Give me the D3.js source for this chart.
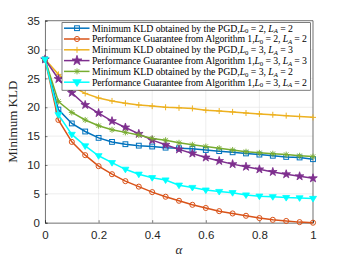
<!DOCTYPE html>
<html lang="en">
<head>
<meta charset="UTF-8">
<script src="https://cdnjs.cloudflare.com/ajax/libs/d3/7.8.5/d3.min.js"></script>
<style>
  body { margin: 0; background: #fff; }
  svg { display: block; }
</style>
</head>
<body>
<div id="chart"></div>
<script>
    // alpha values 0 .. 1 step 0.05
    var alphas = [0, 0.05, 0.1, 0.15, 0.2, 0.25, 0.3, 0.35, 0.4, 0.45, 0.5,
                  0.55, 0.6, 0.65, 0.7, 0.75, 0.8, 0.85, 0.9, 0.95, 1];

    var pgd22 = [28.3, 19.6, 17.2, 15.8, 14.7, 14.0, 13.6, 13.35, 13.2, 13.0, 12.9,
                 12.8, 12.6, 12.4, 12.2, 12.0, 11.8, 11.6, 11.4, 11.3, 11.0];
    var alg22 = [28.3, 17.8, 14.0, 11.7, 9.8, 8.4, 7.2, 6.25, 5.3, 4.5, 3.8,
                 3.1, 2.55, 2.0, 1.6, 1.2, 0.8, 0.5, 0.3, 0.1, 0.0];
    var pgd33 = [28.3, 25.7, 23.6, 22.4, 21.6, 21.1, 20.7, 20.4, 20.2, 20.0, 19.9,
                 19.8, 19.5, 19.35, 19.2, 19.0, 18.85, 18.7, 18.55, 18.4, 18.25];
    var alg33 = [28.3, 24.9, 22.5, 20.4, 19.0, 17.6, 16.5, 15.4, 14.3, 13.5, 12.7,
                 12.0, 11.3, 10.7, 10.15, 9.7, 9.25, 8.8, 8.4, 8.05, 7.7];
    var pgd32 = [28.3, 21.0, 19.1, 17.8, 16.8, 16.1, 15.65, 15.2, 14.6, 14.3, 13.85,
                 13.5, 13.2, 12.9, 12.6, 12.3, 12.1, 11.95, 11.8, 11.6, 11.45];
    var alg32 = [28.3, 18.7, 15.3, 13.3, 11.6, 10.4, 9.25, 8.4, 7.8, 7.4, 6.5,
                 6.1, 5.65, 5.4, 5.2, 4.8, 4.6, 4.5, 4.35, 4.3, 4.2];

    var xTicks = [0, 0.2, 0.4, 0.6, 0.8, 1];
    var xTickLabels = ["0", "0.2", "0.4", "0.6", "0.8", "1"];
    var yTicks = [0, 5, 10, 15, 20, 25, 30, 35];

    var series = [
        {pre: "Minimum KLD obtained by the PGD,", l0: "2", la: "2", values: pgd22, color: "#0072BD", marker: "square"},
        {pre: "Performance Guarantee from Algorithm 1,", l0: "2", la: "2", values: alg22, color: "#D95319", marker: "circle"},
        {pre: "Minimum KLD obtained by the PGD,", l0: "3", la: "3", values: pgd33, color: "#EDB120", marker: "plus"},
        {pre: "Performance Guarantee from Algorithm 1,", l0: "3", la: "3", values: alg33, color: "#7E2F8E", marker: "star"},
        {pre: "Minimum KLD obtained by the PGD,", l0: "3", la: "2", values: pgd32, color: "#77AC30", marker: "asterisk"},
        {pre: "Performance Guarantee from Algorithm 1,", l0: "3", la: "2", values: alg32, color: "#00FFFF", marker: "triangle"}
    ];

    var width = 346, height = 260;
    var pLeft = 45, pRight = 313, pTop = 20.7, pBottom = 222.7;

    var svg = d3.select("#chart").append("svg")
        .attr("width", width)
        .attr("height", height);

    var x = d3.scaleLinear().domain([0, 1]).range([pLeft, pRight]);
    var y = d3.scaleLinear().domain([0, 35]).range([pBottom, pTop]);

    // grid
    svg.append("g").selectAll("line").data(xTicks).enter().append("line")
        .attr("x1", function (d) { return x(d); })
        .attr("x2", function (d) { return x(d); })
        .attr("y1", pTop).attr("y2", pBottom)
        .attr("stroke", "#e3e3e3").attr("stroke-width", 0.6);
    svg.append("g").selectAll("line").data(yTicks).enter().append("line")
        .attr("y1", function (d) { return y(d); })
        .attr("y2", function (d) { return y(d); })
        .attr("x1", pLeft).attr("x2", pRight)
        .attr("stroke", "#e3e3e3").attr("stroke-width", 0.6);

    // axes
    var xAxis = d3.axisBottom(x).tickValues(xTicks).tickSize(-2.5).tickPadding(6)
        .tickFormat(function (d, i) { return xTickLabels[i]; });
    var yAxis = d3.axisLeft(y).tickValues(yTicks).tickSize(-2.5).tickPadding(5);

    var gx = svg.append("g").attr("transform", "translate(0," + pBottom + ")").call(xAxis);
    var gy = svg.append("g").attr("transform", "translate(" + pLeft + ",0)").call(yAxis);
    [gx, gy].forEach(function (g) {
        g.select(".domain").attr("stroke", "#262626").attr("stroke-width", 0.6);
        g.selectAll(".tick line").attr("stroke", "#262626").attr("stroke-width", 0.6);
        g.selectAll("text").attr("fill", "#262626")
            .style("font-family", "'Liberation Sans', Arial, sans-serif")
            .style("font-size", "11.5px");
    });
    gx.selectAll("text").attr("dy", "0.9em");

    // top / right box
    svg.append("line").attr("x1", pLeft).attr("x2", pRight).attr("y1", pTop).attr("y2", pTop)
        .attr("stroke", "#262626").attr("stroke-width", 0.6);
    svg.append("line").attr("x1", pRight).attr("x2", pRight).attr("y1", pTop).attr("y2", pBottom)
        .attr("stroke", "#262626").attr("stroke-width", 0.6);

    // markers
    function drawMarker(g, type, color, cx, cy, s) {
        var r = s / 2;
        if (type === "square") {
            g.append("rect").attr("x", cx - r * 0.8).attr("y", cy - r * 0.8)
                .attr("width", r * 1.6).attr("height", r * 1.6)
                .attr("fill", "none").attr("stroke", color).attr("stroke-width", 1);
        } else if (type === "circle") {
            g.append("circle").attr("cx", cx).attr("cy", cy).attr("r", r * 0.85)
                .attr("fill", "none").attr("stroke", color).attr("stroke-width", 1);
        } else if (type === "plus") {
            g.append("path").attr("d", "M" + (cx - r) + "," + cy + "H" + (cx + r) + "M" + cx + "," + (cy - r) + "V" + (cy + r))
                .attr("stroke", color).attr("stroke-width", 1);
        } else if (type === "asterisk") {
            var a = r * 0.75;
            g.append("path").attr("d",
                "M" + (cx - r) + "," + cy + "H" + (cx + r) +
                "M" + cx + "," + (cy - r) + "V" + (cy + r) +
                "M" + (cx - a) + "," + (cy - a) + "L" + (cx + a) + "," + (cy + a) +
                "M" + (cx - a) + "," + (cy + a) + "L" + (cx + a) + "," + (cy - a))
                .attr("stroke", color).attr("stroke-width", 0.9);
        } else if (type === "star") {
            var sym = d3.symbol().type(d3.symbolStar).size(r * r / 0.89);
            g.append("path").attr("d", sym()).attr("transform", "translate(" + cx + "," + cy + ")")
                .attr("fill", color).attr("stroke", color).attr("stroke-width", 0.8);
        } else if (type === "triangle") {
            var h = r;
            g.append("path").attr("d",
                "M" + (cx - h) + "," + (cy - h * 0.6) + "L" + (cx + h) + "," + (cy - h * 0.6) +
                "L" + cx + "," + (cy + h) + "Z")
                .attr("fill", color).attr("stroke", color).attr("stroke-width", 0.8);
        }
    }

    var line = d3.line()
        .x(function (d, i) { return x(alphas[i]); })
        .y(function (d) { return y(d); });

    series.forEach(function (s) {
        var g = svg.append("g");
        g.append("path").attr("d", line(s.values))
            .attr("fill", "none").attr("stroke", s.color).attr("stroke-width", 1.5);
        s.values.forEach(function (v, i) {
            var sz = s.marker === "star" ? 9 : (s.marker === "triangle" ? 7 : 6);
            drawMarker(g, s.marker, s.color, x(alphas[i]), y(v), sz);
        });
    });

    // legend
    var lg = svg.append("g");
    lg.append("rect").attr("x", 62).attr("y", 22.7).attr("width", 248.5).attr("height", 67.5)
        .attr("fill", "#fff").attr("stroke", "#262626").attr("stroke-width", 0.6);
    series.forEach(function (s, i) {
        var yy = 28.2 + i * 10.8;
        lg.append("line").attr("x1", 64).attr("x2", 89.5).attr("y1", yy).attr("y2", yy)
            .attr("stroke", s.color).attr("stroke-width", 1.5);
        var sz = s.marker === "star" ? 10.5 : (s.marker === "triangle" ? 8.5 : 6);
        drawMarker(lg, s.marker, s.color, 77, yy, sz);
        var t = lg.append("text").attr("x", 92).attr("y", yy + 3.3)
            .style("font-family", "'Liberation Serif', 'Times New Roman', serif")
            .style("font-size", "9.8px").attr("fill", "#000")
            .attr("textLength", i % 2 === 0 ? 201 : 215)
            .attr("lengthAdjust", "spacing");
        t.append("tspan").text(s.pre);
        t.append("tspan").style("font-style", "italic").text("L");
        t.append("tspan").attr("dy", 1.8).style("font-size", "6.8px").text("0");
        t.append("tspan").attr("dy", -1.8).text(" = " + s.l0 + ", ");
        t.append("tspan").style("font-style", "italic").text("L");
        t.append("tspan").attr("dy", 1.8).style("font-size", "6.8px").style("font-style", "italic").text("A");
        t.append("tspan").attr("dy", -1.8).text(" = " + s.la);
    });

    // axis labels
    svg.append("text")
        .attr("transform", "translate(17," + ((pTop + pBottom) / 2) + ") rotate(-90)")
        .attr("text-anchor", "middle")
        .style("font-family", "'Liberation Serif', 'Times New Roman', serif")
        .style("font-size", "13px")
        .attr("fill", "#262626")
        .text("Minimum KLD");
    svg.append("text")
        .attr("x", (pLeft + pRight) / 2).attr("y", 254)
        .attr("text-anchor", "middle")
        .style("font-family", "'Liberation Serif', 'Times New Roman', serif")
        .style("font-style", "italic")
        .style("font-size", "13px")
        .attr("fill", "#262626")
        .text("α");
</script>
</body>
</html>
